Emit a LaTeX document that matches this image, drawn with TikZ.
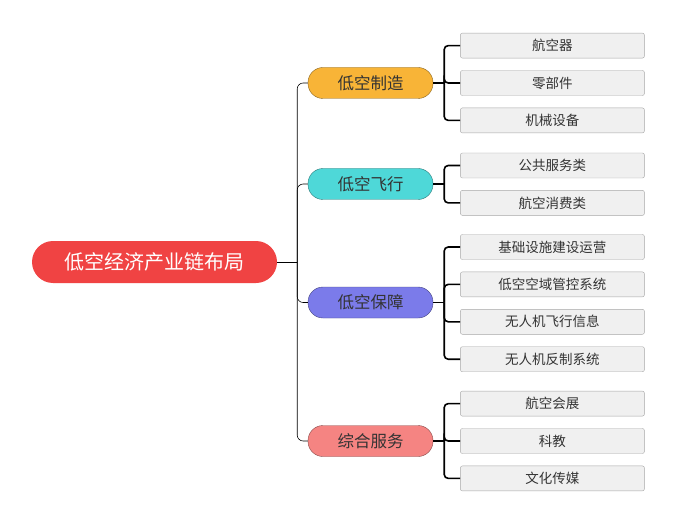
\documentclass[tikz,border=0pt]{standalone}
\usepackage{fontspec}
\setmainfont{Noto Sans CJK SC}
\usetikzlibrary{positioning}
\definecolor{rootred}{HTML}{F04343}
\definecolor{makeorange}{HTML}{F8B437}
\definecolor{flycyan}{HTML}{4ED8D8}
\definecolor{guardblue}{HTML}{7B7BEA}
\definecolor{servepink}{HTML}{F58482}
\definecolor{leafgray}{HTML}{F0F0F0}
\definecolor{textgray}{HTML}{333333}

\begin{document}
\begin{tikzpicture}[
            x=1pt, y=1pt,
            root/.style={fill=rootred, text=white, rounded corners=21pt, minimum width=245pt, minimum height=42pt, font=\fontsize{20}{20}\selectfont},
            branch/.style={draw=#1!55!black, fill=#1, text=textgray, rounded corners=15pt, minimum width=125pt, minimum height=31pt, font=\fontsize{16.5}{16.5}\selectfont},
            leaf/.style={draw=gray!70, fill=leafgray, text=textgray, rounded corners=2pt, minimum width=184pt, minimum height=25pt, font=\fontsize{13.5}{13.5}\selectfont},
            trunk/.style={semithick, rounded corners=6pt},
            twig/.style={line width=1.6pt, rounded corners=4pt},
            every node/.style={align=center, inner sep=0pt}
  ]
  \useasboundingbox (0,0) rectangle (700,-521);

  \node[root] (layout) at (154.5,-262) {低空经济产业链布局};

  \node[branch=makeorange] (make) at (370.5,-83) {低空制造};
  \node[branch=flycyan] (fly) at (370.5,-184) {低空飞行};
  \node[branch=guardblue] (guard) at (370.5,-302.5) {低空保障};
  \node[branch=servepink] (serve) at (370.5,-441) {综合服务};

  % 低空制造
  \node[leaf] (make2) [right=27pt of make] {零部件};
  \node[leaf] (make1) [above=12pt of make2] {航空器};
  \node[leaf] (make3) [below=12pt of make2] {机械设备};

  % 低空飞行
  \node[leaf] (fly1) [right=27pt of fly, yshift=18.5pt] {公共服务类};
  \node[leaf] (fly2) [below=12pt of fly1] {航空消费类};

  % 低空保障
  \node[leaf] (guard1) [right=27pt of guard, yshift=55.5pt] {基础设施建设运营};
  \node[leaf] (guard2) [below=12pt of guard1] {低空空域管控系统};
  \node[leaf] (guard3) [below=12pt of guard2] {无人机飞行信息};
  \node[leaf] (guard4) [below=12pt of guard3] {无人机反制系统};

  % 综合服务
  \node[leaf] (serve2) [right=27pt of serve] {科教};
  \node[leaf] (serve1) [above=12pt of serve2] {航空会展};
  \node[leaf] (serve3) [below=12pt of serve2] {文化传媒};

  \draw[trunk] (layout.east) -- ++(20,0) coordinate (hub);
  \foreach \b in {make,fly,guard,serve}
    \draw[trunk] (hub) |- (\b.west);

  \foreach \b/\n in {make/3,fly/2,guard/4,serve/3} {
    \draw[twig] (\b.east) -- ++(11,0) coordinate (\b hub);
    \foreach \i in {1,...,\n}
      \draw[twig] (\b hub) |- (\b\i.west);
  }

\end{tikzpicture}
\end{document}
